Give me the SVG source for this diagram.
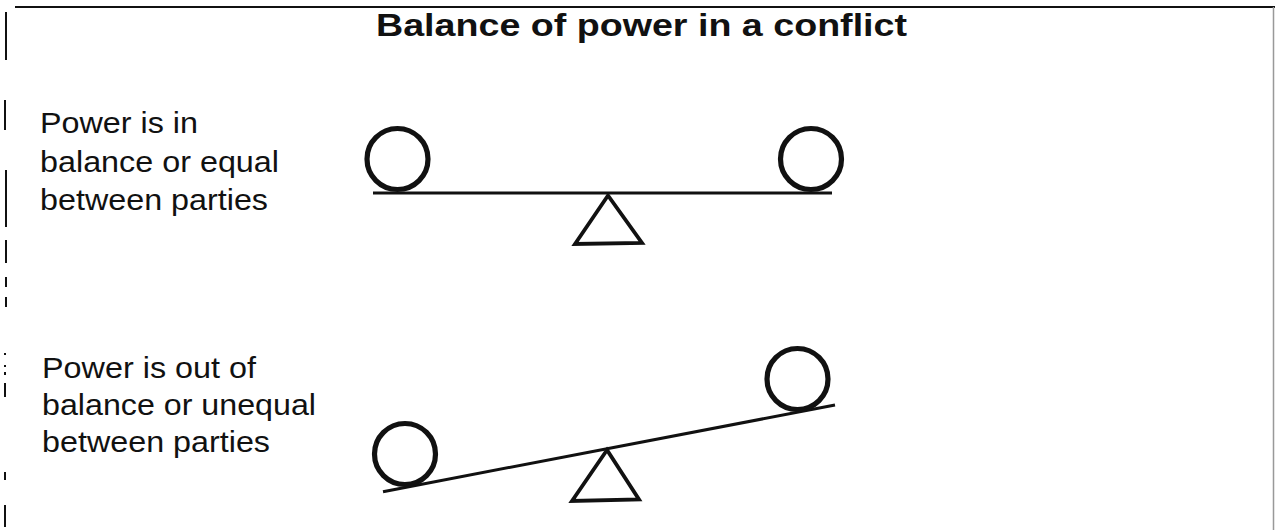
<svg xmlns="http://www.w3.org/2000/svg" width="1275" height="530" viewBox="0 0 1275 530">
  <style>
    .lbl { font-family: "Liberation Sans", Arial, sans-serif; font-size: 30px; fill: #111; }
    .ttl { font-family: "Liberation Sans", Arial, sans-serif; font-size: 32px; font-weight: bold; fill: #111; }
    .ball { fill: none; stroke: #111; stroke-width: 5.2; }
    .beam { stroke: #111; stroke-width: 3; stroke-linecap: butt; }
    .fulcrum { fill: none; stroke: #111; stroke-width: 3.8; stroke-linejoin: miter; }
    .border { stroke: #111; fill: none; }
  </style>
  <rect width="1275" height="530" fill="#ffffff"/>

  <g id="frame">
    <line class="border" x1="15" y1="7" x2="1275" y2="7" stroke-width="2.2"/>
    <line x1="1273.5" y1="7" x2="1273.5" y2="530" stroke="#999" stroke-width="1.5"/>
    <path class="border" stroke-width="2" d="M6,12 V60 M5,100 V130 M6,170 V227 M6,240 V263 M6,277 V287 M6,297 V307 M5,353 V355 M5,365 V367 M5,372 V375 M5,383 V397 M5,472 V480 M5,505 V527"/>
  </g>

  <g id="title">
    <text class="ttl" x="376" y="36" textLength="531" lengthAdjust="spacingAndGlyphs">Balance of power in a conflict</text>
  </g>

  <g id="label-balanced">
    <text class="lbl" x="40" y="133" textLength="158" lengthAdjust="spacingAndGlyphs">Power is in</text>
    <text class="lbl" x="40" y="171.5" textLength="239" lengthAdjust="spacingAndGlyphs">balance or equal</text>
    <text class="lbl" x="40" y="210" textLength="228" lengthAdjust="spacingAndGlyphs">between parties</text>
  </g>

  <g id="seesaw-balanced">
    <line class="beam" x1="373" y1="193" x2="832" y2="193"/>
    <circle class="ball" cx="397.5" cy="159" r="30.5"/>
    <circle class="ball" cx="811" cy="159" r="30.5"/>
    <polygon class="fulcrum" points="608,195.5 575,244 642,243"/>
  </g>

  <g id="label-unbalanced">
    <text class="lbl" x="42" y="378" textLength="214" lengthAdjust="spacingAndGlyphs">Power is out of</text>
    <text class="lbl" x="42" y="414.5" textLength="274" lengthAdjust="spacingAndGlyphs">balance or unequal</text>
    <text class="lbl" x="42" y="451.5" textLength="228" lengthAdjust="spacingAndGlyphs">between parties</text>
  </g>

  <g id="seesaw-unbalanced">
    <line class="beam" x1="383" y1="491.7" x2="835" y2="405"/>
    <circle class="ball" cx="405" cy="454" r="30.5"/>
    <circle class="ball" cx="797.5" cy="379" r="30.5"/>
    <polygon class="fulcrum" points="607,450 572,501 639,499.5"/>
  </g>
</svg>
